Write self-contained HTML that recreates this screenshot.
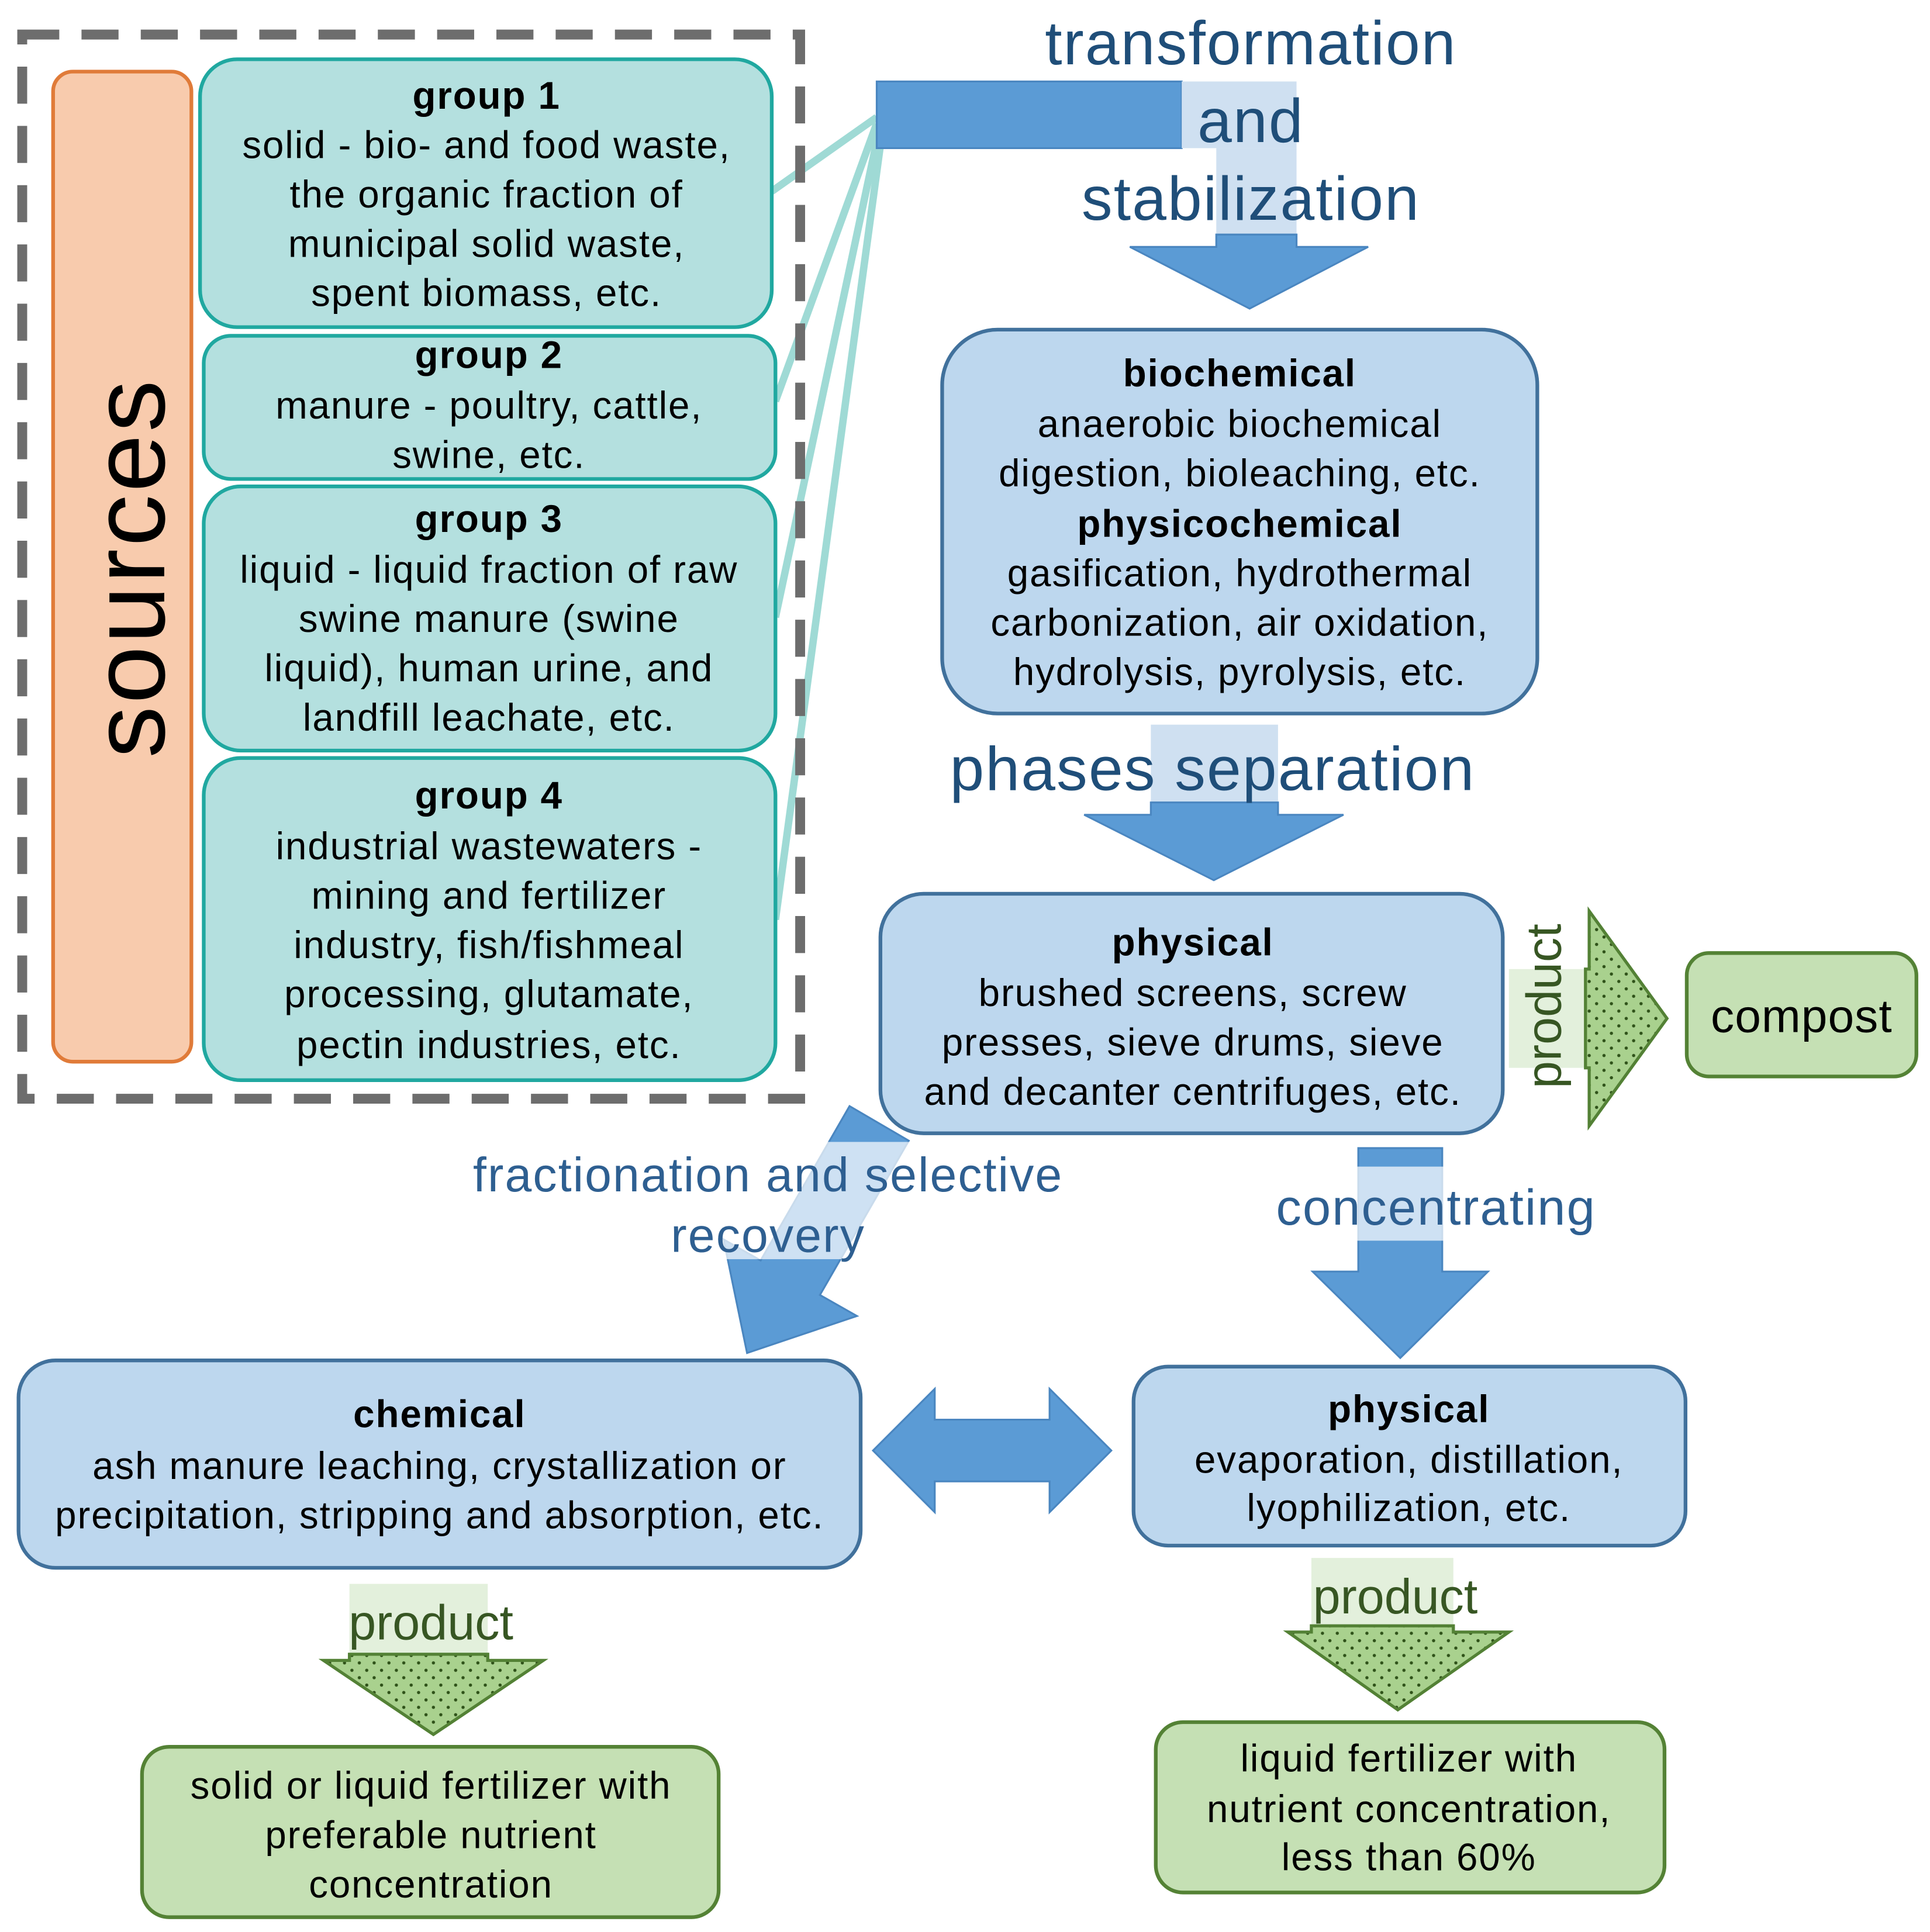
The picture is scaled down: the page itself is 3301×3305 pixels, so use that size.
<!DOCTYPE html>
<html><head><meta charset="utf-8"><style>
html,body{margin:0;padding:0;background:#fff}
svg{display:block}
text{font-family:"Liberation Sans",Arial,sans-serif}
</style></head><body>
<svg width="3301" height="3305" viewBox="0 0 1563 1565" preserveAspectRatio="none" xmlns="http://www.w3.org/2000/svg">
<defs>
<pattern id="dots" width="12" height="12" patternUnits="userSpaceOnUse">
<rect width="12" height="12" fill="#a9d18e"/>
<circle cx="3" cy="3" r="1.3" fill="#2f5219"/>
<circle cx="9" cy="9" r="1.3" fill="#2f5219"/>
</pattern>
</defs>
<rect width="1563" height="1565" fill="#fff"/>

<g stroke="#9fdad5" stroke-width="6" fill="none">
<line x1="710" y1="95" x2="625" y2="155"/>
<line x1="710" y1="100" x2="628" y2="325"/>
<line x1="712" y1="105" x2="628" y2="500"/>
<line x1="714" y1="110" x2="628" y2="745"/>
</g>

<rect x="18" y="28" width="630" height="862" fill="none" stroke="#6d6d6d" stroke-width="8" stroke-dasharray="30 18"/>

<rect x="43" y="58" width="112" height="802" rx="16" fill="#f8cbad" stroke="#e07b39" stroke-width="3"/>
<text x="0" y="0" transform="translate(133,460) rotate(-90)" text-anchor="middle" font-size="84" letter-spacing="2" fill="#000">sources</text>

<g fill="#b4e0df" stroke="#20a8a0" stroke-width="3">
<rect x="162" y="48" width="463" height="217" rx="30"/>
<rect x="165" y="272" width="463" height="116" rx="22"/>
<rect x="165" y="394" width="463" height="214" rx="30"/>
<rect x="165" y="614" width="463" height="261" rx="30"/>
</g>
<g font-size="31" letter-spacing="0.9" text-anchor="middle" fill="#000">
<text x="394" y="88" font-weight="bold">group 1</text>
<text x="394" y="128">solid - bio- and food waste,</text>
<text x="394" y="168">the organic fraction of</text>
<text x="394" y="208">municipal solid waste,</text>
<text x="394" y="248">spent biomass, etc.</text>
<text x="396" y="298" font-weight="bold">group 2</text>
<text x="396" y="339">manure - poultry, cattle,</text>
<text x="396" y="379">swine, etc.</text>
<text x="396" y="431" font-weight="bold">group 3</text>
<text x="396" y="472">liquid - liquid fraction of raw</text>
<text x="396" y="512">swine manure (swine</text>
<text x="396" y="552">liquid), human urine, and</text>
<text x="396" y="592">landfill leachate, etc.</text>
<text x="396" y="655" font-weight="bold">group 4</text>
<text x="396" y="696">industrial wastewaters -</text>
<text x="396" y="736">mining and fertilizer</text>
<text x="396" y="776">industry, fish/fishmeal</text>
<text x="396" y="816">processing, glutamate,</text>
<text x="396" y="857">pectin industries, etc.</text>
</g>

<g stroke="#4a86c0" stroke-width="1.5">
<rect x="710" y="66" width="247" height="54" fill="#5b9bd5"/>
<rect x="957" y="66" width="93" height="54" fill="#cfe0f1" stroke="none"/>
<rect x="985" y="120" width="65" height="70" fill="#cfe0f1" stroke="none"/>
<polygon points="985,190 1050,190 1050,200 1108,200 1012,250 915,200 985,200" fill="#5b9bd5"/>
</g>
<g font-size="50" letter-spacing="1" text-anchor="middle" fill="#1f4e79">
<text x="1013" y="52">transformation</text>
<text x="1013" y="115">and</text>
<text x="1013" y="178">stabilization</text>
</g>

<rect x="763" y="267" width="482" height="311" rx="45" fill="#bdd7ee" stroke="#41719c" stroke-width="3"/>
<g font-size="31" letter-spacing="0.9" text-anchor="middle" fill="#000">
<text x="1004" y="313" font-weight="bold">biochemical</text>
<text x="1004" y="354">anaerobic biochemical</text>
<text x="1004" y="394">digestion, bioleaching, etc.</text>
<text x="1004" y="435" font-weight="bold">physicochemical</text>
<text x="1004" y="475">gasification, hydrothermal</text>
<text x="1004" y="515">carbonization, air oxidation,</text>
<text x="1004" y="555">hydrolysis, pyrolysis, etc.</text>
</g>

<rect x="932" y="587" width="103" height="63" fill="#cfe0f1"/>
<polygon points="932,650 1035,650 1035,660 1088,660 983,713 878,660 932,660" fill="#5b9bd5" stroke="#4a86c0" stroke-width="1.5"/>
<text x="982" y="640" font-size="50" letter-spacing="1" text-anchor="middle" fill="#1f4e79">phases separation</text>

<rect x="713" y="724" width="504" height="194" rx="35" fill="#bdd7ee" stroke="#41719c" stroke-width="3"/>
<g font-size="31" letter-spacing="0.9" text-anchor="middle" fill="#000">
<text x="966" y="774" font-weight="bold">physical</text>
<text x="966" y="815">brushed screens, screw</text>
<text x="966" y="855">presses, sieve drums, sieve</text>
<text x="966" y="895">and decanter centrifuges, etc.</text>
</g>

<rect x="1222" y="785" width="62" height="80" fill="#e3f0dc"/>
<polygon points="1284,785 1287,785 1287,738 1350,825 1287,912 1287,865 1284,865" fill="url(#dots)" stroke="#538135" stroke-width="2.5"/>
<text x="0" y="0" transform="translate(1264,815) rotate(-90)" text-anchor="middle" font-size="40" fill="#375623">product</text>

<rect x="1366" y="772" width="186" height="100" rx="18" fill="#c5e0b4" stroke="#548235" stroke-width="3"/>
<text x="1459" y="836" font-size="38" letter-spacing="0.5" text-anchor="middle" fill="#000">compost</text>

<polygon points="736,924 688,896 616,1021 586,1004 605,1096 694,1066 664,1049" fill="#5b9bd5" stroke="#4a86c0" stroke-width="1.5"/>
<rect x="355" y="925" width="545" height="95" fill="#fff" opacity="0.7"/>
<g font-size="39" letter-spacing="1" text-anchor="middle" fill="#2e5f91">
<text x="622" y="965">fractionation and selective</text>
<text x="622" y="1014">recovery</text>
</g>

<polygon points="1100,930 1168,930 1168,1030 1205,1030 1134,1100 1063,1030 1100,1030" fill="#5b9bd5" stroke="#4a86c0" stroke-width="1.5"/>
<rect x="940" y="945" width="445" height="60" fill="#fff" opacity="0.7"/>
<text x="1163" y="992" font-size="41" letter-spacing="1" text-anchor="middle" fill="#2e5f91">concentrating</text>

<rect x="15" y="1102" width="682" height="168" rx="30" fill="#bdd7ee" stroke="#41719c" stroke-width="3"/>
<g font-size="31" letter-spacing="0.9" text-anchor="middle" fill="#000">
<text x="356" y="1156" font-weight="bold">chemical</text>
<text x="356" y="1198">ash manure leaching, crystallization or</text>
<text x="356" y="1238">precipitation, stripping and absorption, etc.</text>
</g>

<rect x="918" y="1107" width="447" height="145" rx="28" fill="#bdd7ee" stroke="#41719c" stroke-width="3"/>
<g font-size="31" letter-spacing="0.9" text-anchor="middle" fill="#000">
<text x="1141" y="1152" font-weight="bold">physical</text>
<text x="1141" y="1193">evaporation, distillation,</text>
<text x="1141" y="1232">lyophilization, etc.</text>
</g>

<polygon points="707,1175 757,1125 757,1150 850,1150 850,1125 900,1175 850,1225 850,1200 757,1200 757,1225" fill="#5b9bd5" stroke="#4a86c0" stroke-width="1.5"/>

<rect x="283" y="1283" width="112" height="57" fill="#e3f0dc"/>
<polygon points="283,1340 395,1340 395,1345 440,1345 351,1405 262,1345 283,1345" fill="url(#dots)" stroke="#538135" stroke-width="2.5"/>
<text x="349" y="1328" font-size="40" text-anchor="middle" fill="#375623">product</text>

<rect x="1062" y="1262" width="115" height="55" fill="#e3f0dc"/>
<polygon points="1062,1317 1177,1317 1177,1322 1222,1322 1132,1385 1043,1322 1062,1322" fill="url(#dots)" stroke="#538135" stroke-width="2.5"/>
<text x="1130" y="1307" font-size="40" text-anchor="middle" fill="#375623">product</text>

<rect x="115" y="1415" width="467" height="138" rx="22" fill="#c5e0b4" stroke="#548235" stroke-width="3"/>
<g font-size="31" letter-spacing="0.9" text-anchor="middle" fill="#000">
<text x="349" y="1457">solid or liquid fertilizer with</text>
<text x="349" y="1497">preferable nutrient</text>
<text x="349" y="1537">concentration</text>
</g>
<rect x="936" y="1395" width="412" height="138" rx="22" fill="#c5e0b4" stroke="#548235" stroke-width="3"/>
<g font-size="31" letter-spacing="0.9" text-anchor="middle" fill="#000">
<text x="1141" y="1435">liquid fertilizer with</text>
<text x="1141" y="1476">nutrient concentration,</text>
<text x="1141" y="1515">less than 60%</text>
</g>
</svg>
</body></html>
